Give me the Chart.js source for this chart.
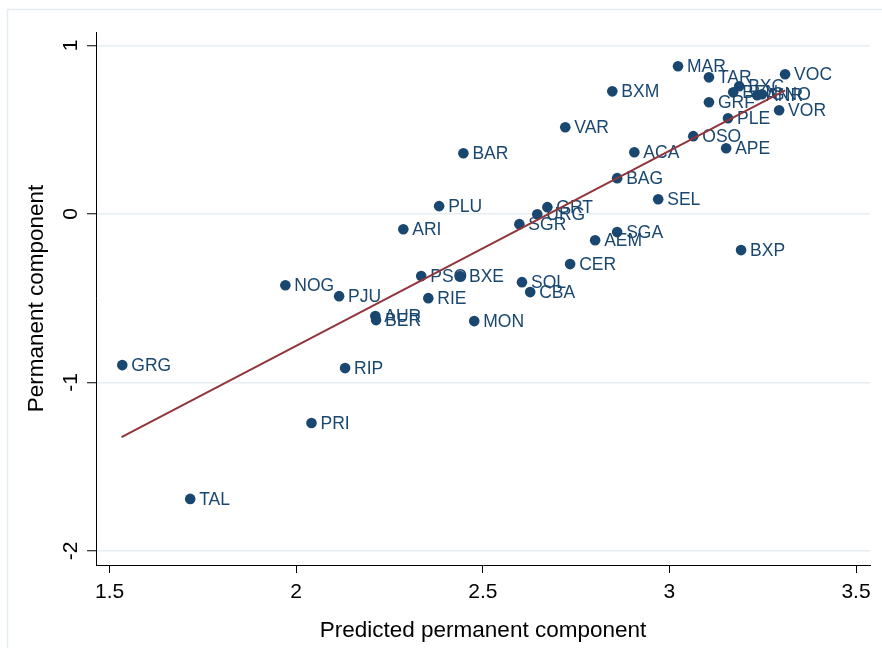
<!DOCTYPE html>
<html>
<head>
<meta charset="utf-8">
<title>Permanent component</title>
<script src="https://cdn.jsdelivr.net/npm/chart.js@4.4.1/dist/chart.umd.min.js"></script>
<style>
  html, body { margin: 0; padding: 0; background: #fff; }
</style>
</head>
<body>
<canvas id="scatterChart" width="882" height="648"></canvas>
<script>
// region codes, predicted (x) and estimated (y) permanent component
const regions = ["MAR", "TAR", "VOC", "BXC", "BEN", "ANR", "GNO", "GRF", "PLE", "VOR",
                 "OSO", "APE", "BXM", "VAR", "ACA", "BAG", "SEL", "BAR", "PLU", "GRT",
                 "URG", "SGR", "ARI", "SGA", "AEM", "CER", "BXP", "PSO", "BXE", "SOL",
                 "CBA", "NOG", "PJU", "RIE", "AUR", "BER", "MON", "GRG", "RIP", "PRI", "TAL"];
const predicted = [3.023, 3.106, 3.310, 3.187, 3.171, 3.235, 3.248, 3.106, 3.157, 3.294,
                   3.064, 3.152, 2.847, 2.721, 2.906, 2.860, 2.970, 2.448, 2.383, 2.673,
                   2.646, 2.598, 2.287, 2.860, 2.801, 2.734, 3.192, 2.335, 2.439, 2.605,
                   2.627, 1.971, 2.115, 2.354, 2.212, 2.214, 2.477, 1.534, 2.131, 2.041, 1.716];
const permanent = [0.876, 0.810, 0.828, 0.757, 0.721, 0.704, 0.710, 0.662, 0.567, 0.615,
                   0.461, 0.389, 0.727, 0.514, 0.366, 0.212, 0.087, 0.360, 0.046, 0.040,
                   -0.002, -0.061, -0.091, -0.108, -0.156, -0.298, -0.215, -0.369, -0.369, -0.405,
                   -0.464, -0.423, -0.488, -0.500, -0.606, -0.630, -0.636, -0.897, -0.915, -1.241, -1.691];

// fitted line end points
const fitX = [1.532, 3.310];
const fitY = [-1.324, 0.733];

const xTicks = [1.5, 2, 2.5, 3, 3.5];
const yTicks = [-2, -1, 0, 1];

const navy = "#1a476f";
const maroon = "#90353b";
const fontFace = '"Liberation Sans", Arial, sans-serif';

const textPlugin = {
    id: "stataText",
    beforeDraw(chart) {
        const ctx = chart.ctx;
        ctx.save();
        ctx.fillStyle = "#fff";
        ctx.fillRect(0, 0, chart.width, chart.height);
        ctx.strokeStyle = "#e3ecef";
        ctx.lineWidth = 1.5;
        ctx.strokeRect(7.5, 9.5, chart.width + 20, chart.height + 20);
        ctx.restore();
    },
    afterDatasetDraw(chart, args) {
        if (args.index !== 0) return;
        const ctx = chart.ctx;
        const xs = chart.scales.x, ys = chart.scales.y;
        ctx.save();
        ctx.font = "17.5px " + fontFace;
        ctx.fillStyle = navy;
        ctx.textAlign = "left";
        ctx.textBaseline = "middle";
        regions.forEach((r, i) => {
            ctx.fillText(r, xs.getPixelForValue(predicted[i]) + 9, ys.getPixelForValue(permanent[i]) + 1);
        });
        ctx.restore();
    },
    afterDraw(chart) {
        const ctx = chart.ctx;
        const xs = chart.scales.x, ys = chart.scales.y;
        const area = chart.chartArea;
        ctx.save();
        ctx.fillStyle = "#000";
        ctx.font = "21px " + fontFace;
        ctx.textAlign = "center";
        ctx.textBaseline = "middle";
        xTicks.forEach(v => {
            ctx.fillText(String(v), xs.getPixelForValue(v), 592);
        });
        yTicks.forEach(v => {
            ctx.save();
            ctx.translate(70, ys.getPixelForValue(v));
            ctx.rotate(-Math.PI / 2);
            ctx.fillText(String(v), 0, 1);
            ctx.restore();
        });
        ctx.font = "22.5px " + fontFace;
        ctx.fillText("Predicted permanent component", (area.left + area.right) / 2, 631);
        ctx.save();
        ctx.translate(37, (area.top + area.bottom) / 2);
        ctx.rotate(-Math.PI / 2);
        ctx.fillText("Permanent component", 0, 0);
        ctx.restore();
        ctx.restore();
    }
};

new Chart(document.getElementById("scatterChart").getContext("2d"), {
    type: "scatter",
    data: {
        datasets: [
            {
                label: "Permanent component",
                data: predicted.map((x, i) => ({ x: x, y: permanent[i] })),
                backgroundColor: navy,
                borderWidth: 0,
                pointRadius: 5.3,
                pointHoverRadius: 5.3,
                order: 1
            },
            {
                label: "Fitted values",
                type: "line",
                data: fitX.map((x, i) => ({ x: x, y: fitY[i] })),
                borderColor: maroon,
                borderWidth: 2,
                pointRadius: 0,
                fill: false,
                order: 0
            }
        ]
    },
    options: {
        responsive: false,
        animation: false,
        layout: { padding: { top: 32, right: 12, left: 0, bottom: 0 } },
        plugins: {
            legend: { display: false },
            tooltip: { enabled: false }
        },
        scales: {
            x: {
                type: "linear",
                min: 1.4636,
                max: 3.5375,
                afterBuildTicks: s => { s.ticks = xTicks.map(v => ({ value: v })); },
                afterFit: s => { s.height = 83; },
                ticks: { display: false },
                grid: { drawOnChartArea: false, tickLength: 8, tickColor: "#000", tickWidth: 1 },
                border: { color: "#000", width: 1 }
            },
            y: {
                type: "linear",
                min: -2.083,
                max: 1.079,
                afterBuildTicks: s => { s.ticks = yTicks.map(v => ({ value: v })); },
                afterFit: s => { s.width = 96; },
                ticks: { display: false },
                grid: { color: "#e6eef1", lineWidth: 1.5, tickLength: 9, tickColor: "#000", tickWidth: 1 },
                border: { color: "#000", width: 1 }
            }
        }
    },
    plugins: [textPlugin]
});
</script>
</body>
</html>
